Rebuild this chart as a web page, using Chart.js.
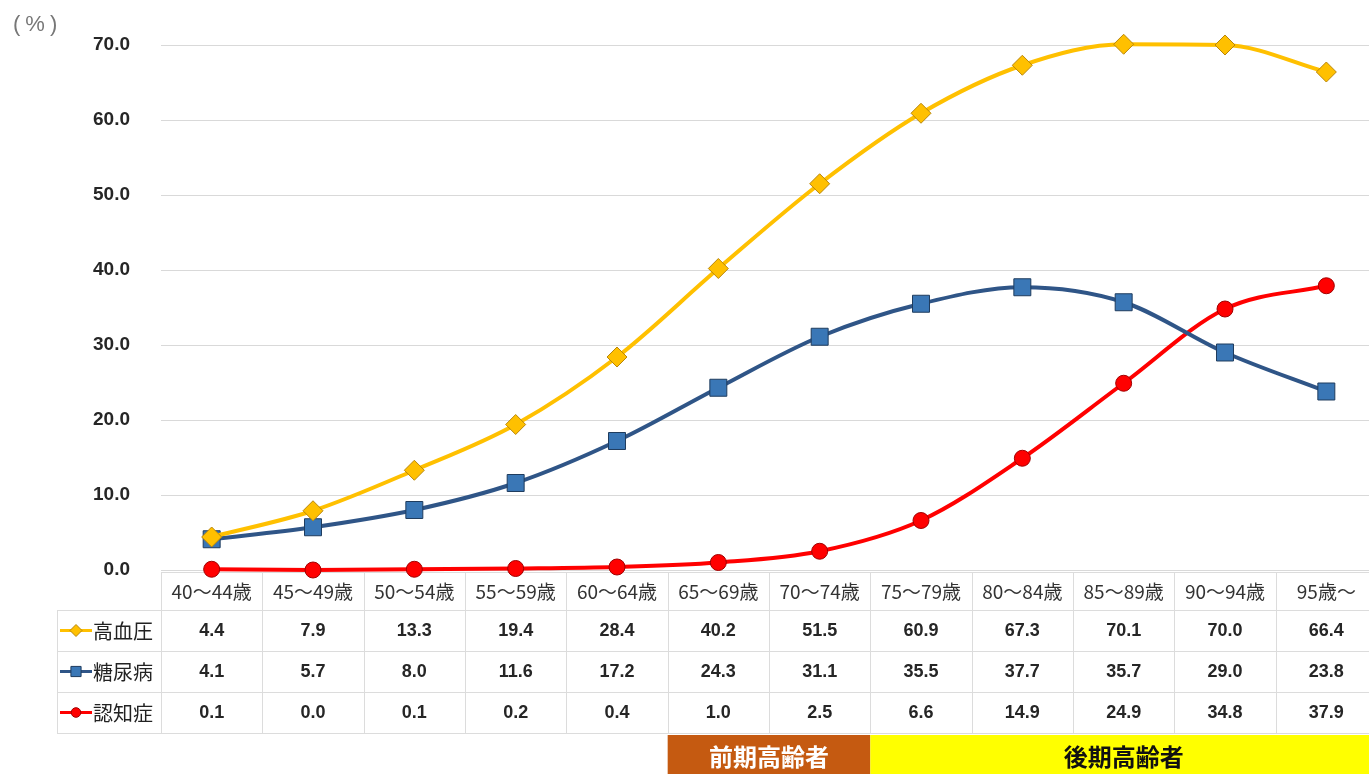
<!DOCTYPE html>
<html lang="ja">
<head>
<meta charset="utf-8">
<script src="https://cdn.jsdelivr.net/npm/chart.js@4/dist/chart.umd.min.js"></script>
<style>
  html, body { margin: 0; padding: 0; background: #fff; overflow: hidden; }
  #wrap { position: relative; width: 1390px; height: 774px; }
  #unit {
    position: absolute; left: 13px; top: 11px;
    font: 22px 'Liberation Sans', sans-serif; color: #777; letter-spacing: 5px;
  }
</style>
</head>
<body>
<div id="wrap">
  <canvas id="chartRate" width="1390" height="774"></canvas>
  <div id="unit">(%)</div>
</div>
<script>
// 年齢階級
const ageGroups = ["40～44歳", "45～49歳", "50～54歳", "55～59歳", "60～64歳", "65～69歳",
  "70～74歳", "75～79歳", "80～84歳", "85～89歳", "90～94歳", "95歳～"];

// 有病率 (%)
const hypertension = [4.4, 7.9, 13.3, 19.4, 28.4, 40.2, 51.5, 60.9, 67.3, 70.1, 70.0, 66.4];
const diabetes = [4.1, 5.7, 8.0, 11.6, 17.2, 24.3, 31.1, 35.5, 37.7, 35.7, 29.0, 23.8];
const dementia = [0.1, 0.0, 0.1, 0.2, 0.4, 1.0, 2.5, 6.6, 14.9, 24.9, 34.8, 37.9];

const yTicks = [0, 10, 20, 30, 40, 50, 60, 70];

// 前期・後期高齢者の区分（年齢階級のインデックス）
const groupBands = [
  { label: "前期高齢者", from: 5, to: 6, fill: "#C55A11", color: "#fff" },
  { label: "後期高齢者", from: 7, to: 11, fill: "#FFFF00", color: "#111" }
];

const FONT = "'Liberation Sans', 'Noto Sans CJK JP', sans-serif";
const JP = "'Noto Sans CJK JP', sans-serif";

const series = [
  { label: "高血圧", data: hypertension, line: "#FFC000", fill: "#FFC000", border: "#B8860B", style: "rectRot", radius: 10 },
  { label: "糖尿病", data: diabetes, line: "#2F5587", fill: "#3A77B6", border: "#1F3C5E", style: "rect", radius: 12 },
  { label: "認知症", data: dementia, line: "#FF0000", fill: "#FF0000", border: "#A00000", style: "circle", radius: 8 }
];

// データテーブル（グラフ下）を描くプラグイン
const dataTable = {
  id: "dataTable",
  beforeDatasetsDraw(chart) {
    const ctx = chart.ctx;
    const x = chart.scales.x;
    const area = chart.chartArea;
    const colW = x.getPixelForValue(1) - x.getPixelForValue(0);
    const left = area.left;
    const right = area.left + colW * ageGroups.length;
    const headTop = area.bottom + 2;
    const rowH = 41;
    const headBottom = headTop + 38;
    const legendLeft = 57;

    ctx.save();
    ctx.strokeStyle = "#dcdcdc";
    ctx.lineWidth = 1;

    // 横線
    const bottom = headBottom + rowH * series.length;
    ctx.beginPath();
    ctx.moveTo(left, headTop + 0.5); ctx.lineTo(right, headTop + 0.5);
    for (let r = 0; r <= series.length; r++) {
      const y = Math.round(headBottom + rowH * r) + 0.5;
      ctx.moveTo(legendLeft, y); ctx.lineTo(right, y);
    }
    // 縦線
    for (let c = 0; c <= ageGroups.length; c++) {
      const xx = Math.round(left + colW * c) + 0.5;
      ctx.moveTo(xx, headTop); ctx.lineTo(xx, bottom);
    }
    ctx.moveTo(legendLeft + 0.5, headBottom); ctx.lineTo(legendLeft + 0.5, bottom);
    ctx.stroke();

    ctx.textAlign = "center";
    ctx.textBaseline = "middle";

    // 見出し（年齢階級）
    ctx.fillStyle = "#333";
    ctx.font = "19px " + JP;
    ageGroups.forEach((g, i) => {
      ctx.fillText(g, x.getPixelForValue(i), (headTop + headBottom) / 2 + 1);
    });

    // 凡例と数値
    series.forEach((s, r) => {
      const cy = headBottom + rowH * r + rowH / 2;
      ctx.strokeStyle = s.line;
      ctx.lineWidth = 3;
      ctx.beginPath();
      ctx.moveTo(legendLeft + 3, cy); ctx.lineTo(legendLeft + 35, cy);
      ctx.stroke();
      ctx.fillStyle = s.fill;
      ctx.strokeStyle = s.border;
      ctx.lineWidth = 1;
      Chart.helpers.drawPoint(ctx, { pointStyle: s.style, radius: s.radius * 0.6, borderWidth: 1 }, legendLeft + 19, cy);

      ctx.fillStyle = "#222";
      ctx.font = "20px " + JP;
      ctx.textAlign = "left";
      ctx.fillText(s.label, legendLeft + 36, cy + 1);

      ctx.textAlign = "center";
      ctx.font = "bold 18px " + FONT;
      ctx.fillStyle = "#262626";
      s.data.forEach((v, i) => {
        ctx.fillText(v.toFixed(1), x.getPixelForValue(i), cy + 1);
      });
    });

    // 前期・後期高齢者の帯
    const bandTop = bottom + 2;
    groupBands.forEach(b => {
      const x0 = left + colW * b.from;
      const x1 = left + colW * (b.to + 1);
      ctx.fillStyle = b.fill;
      ctx.fillRect(x0, bandTop, x1 - x0, chart.height - bandTop);
      ctx.fillStyle = b.color;
      ctx.font = "bold 24px " + JP;
      ctx.fillText(b.label, (x0 + x1) / 2, bandTop + 22);
    });
    ctx.restore();
  }
};

const ctx = document.getElementById("chartRate");

new Chart(ctx, {
  type: "line",
  data: {
    labels: ageGroups,
    datasets: series.map(s => ({
      label: s.label,
      data: s.data,
      borderColor: s.line,
      borderWidth: 4,
      backgroundColor: s.fill,
      pointStyle: s.style,
      pointRadius: s.radius,
      pointBackgroundColor: s.fill,
      pointBorderColor: s.border,
      pointBorderWidth: 1,
      cubicInterpolationMode: "monotone",
      clip: false
    }))
  },
  options: {
    responsive: false,
    animation: false,
    layout: { padding: { top: 45, right: 9, bottom: 204, left: 0 } },
    plugins: {
      legend: { display: false },
      tooltip: { enabled: false }
    },
    scales: {
      x: {
        display: false,
        offset: true
      },
      y: {
        min: 0,
        max: 70,
        afterFit: (scale) => { scale.width = 161; },
        afterBuildTicks: (scale) => { scale.ticks = yTicks.map(v => ({ value: v })); },
        border: { display: false },
        grid: { color: "#d9d9d9", drawTicks: false },
        ticks: {
          padding: 31,
          color: "#262626",
          font: { family: FONT, size: 19, weight: "bold" },
          callback: (v) => v.toFixed(1)
        }
      }
    }
  },
  plugins: [dataTable]
});
</script>
</body>
</html>
